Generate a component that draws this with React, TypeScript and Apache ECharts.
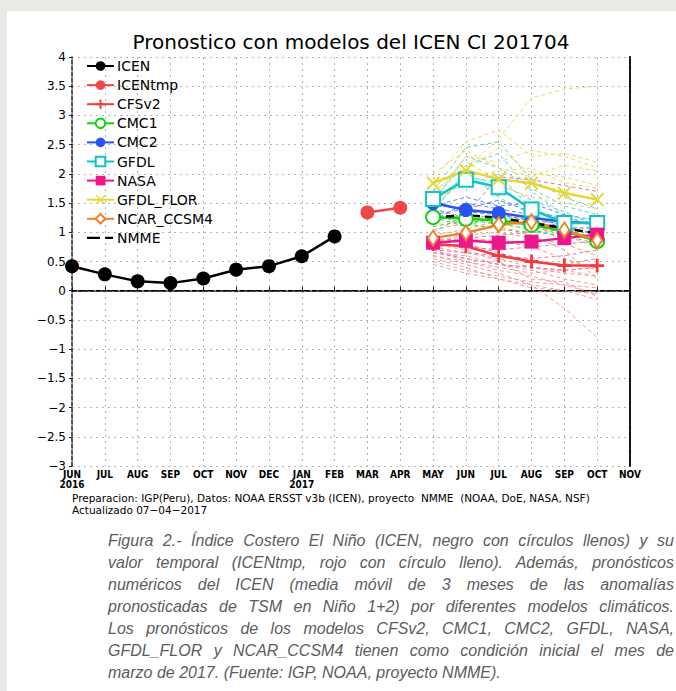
import React, { useEffect, useRef } from "react";
import * as echarts from "echarts";

const months = ["JUN","JUL","AUG","SEP","OCT","NOV","DEC","JAN","FEB","MAR","APR","MAY","JUN","JUL","AUG","SEP","OCT","NOV"];
const yearLabels = ["2016","","","","","","","2017","","","","","","","","","",""];

// ICEN observed (JUN 2016 - FEB 2017), ICENtmp (MAR-APR 2017)
const icen = [0.42, 0.28, 0.16, 0.13, 0.21, 0.36, 0.42, 0.59, 0.93];
const icenStart = 0;
const icenTmp = [1.34, 1.42];
const icenTmpStart = 9;

// Forecasts MAY - OCT 2017
const forecastStart = 11;
const cfsv2 = [0.80, 0.76, 0.60, 0.50, 0.43, 0.43];
const cmc1 = [1.26, 1.23, 1.20, 1.13, 1.02, 0.85];
const cmc2 = [1.50, 1.38, 1.33, 1.25, 1.18, 1.15];
const gfdl = [1.57, 1.90, 1.77, 1.39, 1.16, 1.16];
const nasa = [0.82, 0.86, 0.82, 0.84, 0.90, 0.96];
const gfdlFlor = [1.84, 2.06, 1.91, 1.84, 1.67, 1.56];
const ncar = [0.90, 0.99, 1.13, 1.18, 1.04, 0.86];
const nmme = [1.26, 1.29, 1.25, 1.16, 1.07, 0.98];

// Ensemble members (MAY - OCT)
const florMembers = [
  [1.70, 2.10, 2.60, 3.30, 3.45, 3.50],
  [1.90, 2.55, 2.75, 2.30, 2.35, 2.20],
  [1.60, 2.30, 2.20, 2.40, 2.30, 2.10],
  [2.00, 2.40, 2.10, 1.95, 2.15, 2.05],
  [1.45, 1.95, 2.05, 2.10, 1.85, 1.75],
  [1.75, 2.20, 1.90, 1.85, 1.70, 1.55],
  [1.55, 1.85, 1.80, 1.60, 1.50, 1.40],
  [1.85, 2.05, 2.45, 2.00, 1.95, 1.80],
];
const gfdlMembers = [
  [1.70, 2.45, 2.55, 1.90, 1.60, 1.40],
  [1.50, 2.30, 2.10, 1.75, 1.45, 1.30],
  [1.60, 2.15, 2.35, 1.70, 1.30, 1.20],
  [1.40, 1.95, 1.85, 1.55, 1.35, 1.10],
  [1.65, 1.80, 2.00, 1.40, 1.20, 1.25],
  [1.35, 2.05, 1.60, 1.30, 1.10, 1.05],
];
const cmc2Members = [
  [1.45, 1.60, 1.45, 1.50, 1.30, 1.20],
  [1.30, 1.40, 1.55, 1.35, 1.25, 1.10],
  [1.55, 1.35, 1.30, 1.20, 1.15, 1.15],
  [1.20, 1.50, 1.40, 1.30, 1.05, 1.00],
  [1.40, 1.25, 1.20, 1.15, 1.10, 0.95],
];
const cmc1Members = [
  [1.20, 1.30, 1.25, 1.10, 1.00, 0.85],
  [1.30, 1.15, 1.05, 1.00, 0.95, 0.80],
  [1.10, 1.20, 1.15, 1.05, 0.90, 0.95],
  [1.25, 1.10, 1.30, 1.20, 1.05, 0.90],
];
const nasaMembers = [
  [1.00, 1.30, 1.95, 1.90, 1.80, 1.70],
  [0.80, 0.75, 0.70, 0.75, 0.80, 0.85],
  [0.70, 0.65, 0.60, 0.55, 0.60, 0.70],
  [0.85, 0.90, 0.95, 1.00, 1.05, 1.10],
  [0.65, 0.55, 0.45, 0.40, 0.35, 0.40],
  [0.75, 0.80, 0.65, 0.50, 0.45, 0.55],
];
const cfsMembers = [
  [0.60, 0.45, 0.30, 0.10, -0.30, -0.80],
  [0.55, 0.40, 0.20, 0.05, 0.00, -0.15],
  [0.70, 0.50, 0.35, 0.25, 0.10, -0.05],
  [0.50, 0.35, 0.25, 0.15, 0.10, 0.05],
  [0.65, 0.60, 0.45, 0.35, 0.20, 0.10],
  [0.75, 0.65, 0.55, 0.40, 0.30, 0.25],
  [0.60, 0.50, 0.40, 0.30, 0.35, 0.40],
  [0.80, 0.70, 0.50, 0.20, 0.15, -0.10],
  [0.45, 0.30, 0.20, 0.10, 0.00, -0.05],
  [0.70, 0.55, 0.45, 0.40, 0.35, 0.25],
];
const ncarMembers = [
  [0.95, 1.05, 1.20, 1.10, 0.95, 0.75],
  [0.85, 0.95, 1.00, 0.90, 0.80, 0.60],
  [1.05, 1.15, 1.25, 1.20, 1.00, 0.85],
  [0.80, 0.90, 0.85, 0.75, 0.55, 0.35],
  [0.90, 1.00, 1.10, 0.95, 0.70, 0.20],
];

const footerLines = [
  "Preparacion: IGP(Peru), Datos: NOAA ERSST v3b (ICEN), proyecto  NMME  (NOAA, DoE, NASA, NSF)",
  "Actualizado 07\u221204\u22122017",
];

const captionLines = [
  "Figura 2.-  Índice Costero El Niño (ICEN, negro con círculos llenos) y su",
  "valor temporal (ICENtmp, rojo con círculo lleno). Además, pronósticos",
  "numéricos del ICEN (media móvil de 3 meses de las anomalías",
  "pronosticadas de TSM en Niño 1+2) por diferentes modelos climáticos.",
  "Los pronósticos de los modelos CFSv2, CMC1, CMC2, GFDL, NASA,",
  "GFDL_FLOR y NCAR_CCSM4 tienen como condición inicial el mes de",
  "marzo de 2017. (Fuente: IGP, NOAA, proyecto NMME).",
];

function pad(values: number[], start: number) {
  const arr: (number | null)[] = months.map(() => null);
  values.forEach((v, i) => { arr[start + i] = v; });
  return arr;
}

const PLUS = "path://M0,4H10V6H0Z M4,0H6V10H4Z";
const CROSS = "path://M1,0L5,4L9,0L10,1L6,5L10,9L9,10L5,6L1,10L0,9L4,5L0,1Z";
const DASH_ICON = "path://M0,0h0.1v0.1h-0.1Z M27,12h-0.1v-0.1h0.1Z M0,4.8H13V7.2H0Z M18,4.8H26V7.2H18Z";

export default function App() {
  const ref = useRef<HTMLDivElement>(null);
  useEffect(() => {
    if (!ref.current) return;
    const chart = echarts.init(ref.current, null, { renderer: "svg" });

    const memberSeries: any[] = [];
    const addMembers = (list: number[][], name: string, color: string) => {
      list.forEach((vals, i) => {
        memberSeries.push({
          name: name + "_m" + (i + 1),
          type: "line",
          data: pad(vals, forecastStart),
          symbol: "none",
          silent: true,
          lineStyle: { width: 1, type: [4, 3], color },
          z: 1,
        });
      });
    };
    addMembers(cfsMembers, "CFSv2", "#f59a9a");
    addMembers(nasaMembers, "NASA", "#e872b4");
    addMembers(ncarMembers, "NCAR", "#f2a060");
    addMembers(cmc1Members, "CMC1", "#4ccc4c");
    addMembers(cmc2Members, "CMC2", "#5486ee");
    addMembers(gfdlMembers, "GFDL", "#5ed4cc");
    addMembers(florMembers, "FLOR", "#eadc64");

    const main = (name: string, vals: number[], start: number, color: string, symbol: string, extra: any = {}) => ({
      name,
      type: "line",
      data: pad(vals, start),
      symbol,
      symbolSize: 14,
      showAllSymbol: true,
      lineStyle: { width: 2.5, color },
      itemStyle: { color, borderColor: color, borderWidth: symbol.startsWith("empty") ? 2 : 0 },
      z: 3,
      ...extra,
    });

    const option: any = {
      animation: false,
      backgroundColor: "transparent",
      grid: { left: 72, top: 57, width: 558, height: 409, containLabel: false },
      legend: {
        data: ["ICEN", "ICENtmp", "CFSv2", "CMC1", "CMC2", "GFDL", "NASA", "GFDL_FLOR", "NCAR_CCSM4", { name: "NMME", icon: DASH_ICON }],
        orient: "vertical",
        left: 86,
        top: 59,
        padding: 0,
        itemWidth: 27,
        itemHeight: 12,
        itemGap: 5.1,
        selectedMode: false,
        textStyle: { fontFamily: "DejaVu Sans", fontSize: 14, color: "#000", padding: [0, 0, 0, -2] },
      },
      xAxis: [
        {
          type: "category",
          data: months,
          boundaryGap: false,
          position: "bottom",
          axisLine: { show: true, lineStyle: { color: "#222", width: 1.5, type: [4, 2] } },
          axisTick: { show: true, inside: true, length: 4, lineStyle: { color: "#222" } },
          axisLabel: {
            interval: 0,
            margin: 3,
            color: "#000",
            fontFamily: "'DejaVu Sans Condensed', 'DejaVu Sans'",
            fontWeight: "bold",
            fontSize: 10,
            lineHeight: 10,
            formatter: (v: string, i: number) => (yearLabels[i] ? v + "\n" + yearLabels[i] : v),
          },
          splitLine: { show: true, lineStyle: { color: "#b4b4b4", type: [2, 4], width: 1 } },
        },
        {
          type: "category",
          data: months,
          boundaryGap: false,
          position: "top",
          axisLine: { show: true, lineStyle: { color: "#222", width: 1.5, type: [4, 2] } },
          axisTick: { show: false },
          axisLabel: { show: false },
          splitLine: { show: false },
        },
      ],
      yAxis: [
        {
          type: "value",
          min: -3,
          max: 4,
          interval: 0.5,
          position: "left",
          axisLine: { show: true, lineStyle: { color: "#222", width: 1.5, type: [4, 2] } },
          axisTick: { show: true, length: 3, lineStyle: { color: "#222" } },
          axisLabel: {
            margin: 6,
            color: "#000",
            fontFamily: "DejaVu Sans",
            fontSize: 12,
            formatter: (v: number) => String(v).replace("-", "\u2212"),
          },
          splitLine: { show: true, lineStyle: { color: "#b4b4b4", type: [2, 4], width: 1 } },
        },
        {
          type: "value",
          min: -3,
          max: 4,
          interval: 0.5,
          position: "right",
          axisLine: { show: true, lineStyle: { color: "#111", width: 2, type: [5, 1] } },
          axisTick: { show: false },
          axisLabel: { show: false },
          splitLine: { show: false },
        },
      ],
      graphic: [
        {
          type: "text",
          x: 351,
          y: 42,
          style: {
            text: "Pronostico con modelos del ICEN CI 201704",
            fontFamily: "DejaVu Sans",
            fontSize: 20,
            fill: "#000",
            textAlign: "center",
            textVerticalAlign: "middle",
          },
        },
        {
          type: "text",
          x: 72,
          y: 492,
          style: {
            text: footerLines.join("\n"),
            fontFamily: "DejaVu Sans",
            fontSize: 10.5,
            lineHeight: 12,
            fill: "#000",
            textAlign: "left",
            textVerticalAlign: "top",
          },
        },
      ],
      series: [
        ...memberSeries,
        main("ICEN", icen, icenStart, "#000000", "circle", {
          markLine: {
            silent: true,
            symbol: ["none", "none"],
            label: { show: false },
            lineStyle: { color: "#000", type: [5, 3], width: 1 },
            data: [{ yAxis: 0 }],
          },
        }),
        main("ICENtmp", icenTmp, icenTmpStart, "#f04848", "circle"),
        main("CFSv2", cfsv2, forecastStart, "#f23c3c", PLUS),
        main("CMC1", cmc1, forecastStart, "#10d010", "emptyCircle"),
        main("CMC2", cmc2, forecastStart, "#2a52f0", "circle"),
        main("GFDL", gfdl, forecastStart, "#10c4c4", "emptyRect"),
        main("NASA", nasa, forecastStart, "#ee168c", "rect"),
        main("GFDL_FLOR", gfdlFlor, forecastStart, "#e6d834", CROSS),
        main("NCAR_CCSM4", ncar, forecastStart, "#f08228", "emptyDiamond", { symbolSize: [10, 15] }),
        main("NMME", nmme, forecastStart, "#000000", "none", { lineStyle: { width: 2.5, color: "#000", type: [8, 5] } }),
      ],
    };
    chart.setOption(option);
    return () => chart.dispose();
  }, []);

  return (
    <div style={{ position: "fixed", left: 0, top: 0, width: 676, height: 691, overflow: "hidden", background: "#e8eae5" }}>
      <div style={{ position: "absolute", left: 7, top: 11, right: 0, bottom: 0, background: "#ffffff" }} />
      <div ref={ref} style={{ position: "absolute", left: 0, top: 0, width: 676, height: 520 }} />
      <div style={{ position: "absolute", left: 108, top: 530, width: 566 }}>
        {captionLines.map((line, i) => (
          <div
            key={i}
            style={{
              width: 566,
              height: 22,
              lineHeight: "22px",
              fontFamily: "'Liberation Sans', Arial, sans-serif",
              fontStyle: "italic",
              fontSize: 16,
              color: "#5c5c5c",
              whiteSpace: "nowrap",
              textAlign: "justify",
              textAlignLast: i === captionLines.length - 1 ? "left" : "justify",
            }}
          >
            {line}
          </div>
        ))}
      </div>
    </div>
  );
}
